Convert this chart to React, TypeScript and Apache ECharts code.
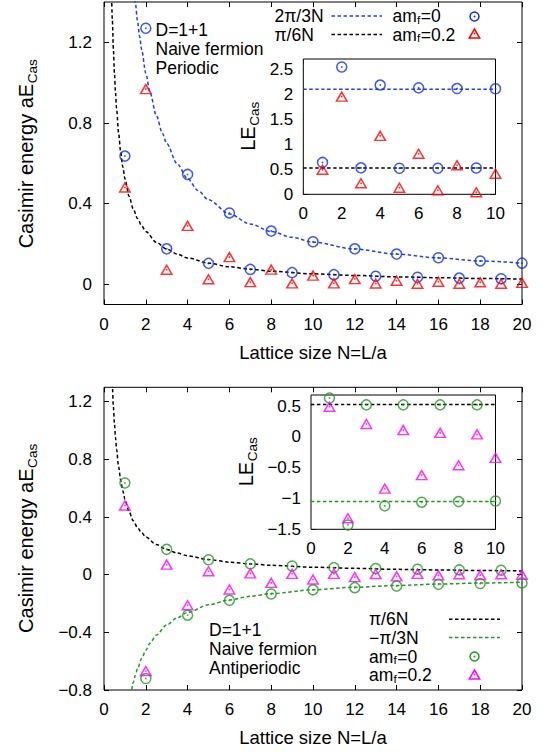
import React, { useEffect, useRef } from "react";
import * as echarts from "echarts";

// ---------------- data ----------------
const N_MAIN = [1, 2, 3, 4, 5, 6, 7, 8, 9, 10, 11, 12, 13, 14, 15, 16, 17, 18, 19, 20];
const N_INSET = [1, 2, 3, 4, 5, 6, 7, 8, 9, 10];

// Periodic, main panel (aE_Cas)
const periodicAm0 = [0.636, 1.27, 0.176, 0.545, 0.104, 0.354, 0.074, 0.264, 0.058, 0.211, 0.048, 0.176, 0.040, 0.150, 0.035, 0.132, 0.031, 0.116, 0.028, 0.105];
const periodicAm02 = [0.48, 0.968, 0.072, 0.29, 0.025, 0.135, 0.011, 0.073, 0.005, 0.043, 0.005, 0.026, 0.004, 0.018, 0.003, 0.013, 0.003, 0.010, 0.003, 0.007];
// Periodic, inset (LE_Cas)
const periodicInsetAm0 = [0.636, 2.54, 0.528, 2.18, 0.52, 2.124, 0.52, 2.11, 0.524, 2.106];
const periodicInsetAm02 = [0.49, 1.95, 0.22, 1.166, 0.13, 0.81, 0.08, 0.58, 0.04, 0.41];

// Antiperiodic, main panel
const antiAm0 = [0.636, -0.72, 0.176, -0.281, 0.104, -0.178, 0.075, -0.134, 0.06, -0.105, 0.049, -0.09, 0.043, -0.079, 0.038, -0.067, 0.033, -0.061, 0.031, -0.057];
const antiAm02 = [0.48, -0.668, 0.07, -0.212, 0.024, -0.103, 0.009, -0.057, 0.006, -0.033, 0.006, -0.017, 0.005, -0.012, 0.006, -0.005, 0.003, -0.003, 0.003, -0.001];
// Antiperiodic, inset
const antiInsetAm0 = [0.63, -1.43, 0.52, -1.12, 0.52, -1.06, 0.52, -1.05, 0.52, -1.04];
const antiInsetAm02 = [0.49, -1.32, 0.21, -0.84, 0.11, -0.62, 0.065, -0.46, 0.04, -0.34];

// Reference curves: [N, value]
const curveTwoPiOver3N = [[1.45, 1.444], [1.5, 1.396], [1.6, 1.309], [1.7, 1.232], [1.8, 1.164], [2, 1.047], [2.2, 0.952], [2.5, 0.838], [2.8, 0.748], [3, 0.698], [3.5, 0.598], [4, 0.524], [4.5, 0.465], [5, 0.419], [6, 0.349], [7, 0.299], [8, 0.262], [9, 0.233], [10, 0.209], [12, 0.175], [14, 0.150], [16, 0.131], [18, 0.116], [20, 0.105]];
const curvePiOver6N = [[0.36, 1.454], [0.4, 1.309], [0.45, 1.164], [0.5, 1.047], [0.55, 0.952], [0.6, 0.873], [0.7, 0.748], [0.8, 0.654], [0.9, 0.582], [1, 0.524], [1.2, 0.436], [1.4, 0.374], [1.6, 0.327], [1.8, 0.291], [2, 0.262], [2.5, 0.209], [3, 0.175], [3.5, 0.150], [4, 0.131], [5, 0.105], [6, 0.087], [7, 0.075], [8, 0.065], [10, 0.052], [12, 0.044], [14, 0.037], [16, 0.033], [18, 0.029], [20, 0.026]];
const curveMinusPiOver3N = [[1.25, -0.838], [1.3, -0.806], [1.4, -0.748], [1.5, -0.698], [1.6, -0.654], [1.8, -0.582], [2, -0.524], [2.2, -0.476], [2.5, -0.419], [3, -0.349], [3.5, -0.299], [4, -0.262], [5, -0.209], [6, -0.175], [7, -0.150], [8, -0.131], [10, -0.105], [12, -0.087], [14, -0.075], [16, -0.065], [18, -0.058], [20, -0.052]];
// Inset constant levels: [N, LE]
const insetTwoPiOver3 = [[0, 2.094], [10, 2.094]];
const insetPiOver6 = [[0, 0.524], [10, 0.524]];
const insetMinusPiOver3 = [[0, -1.047], [10, -1.047]];

// Tick labels
const mainXTicks = [0, 2, 4, 6, 8, 10, 12, 14, 16, 18, 20];
const insetXTicks = [0, 2, 4, 6, 8, 10];
const topYTicks = [0, 0.4, 0.8, 1.2];
const topInsetYTicks = [0, 0.5, 1, 1.5, 2, 2.5];
const botYTicks = [-0.8, -0.4, 0, 0.4, 0.8, 1.2];
const botInsetYTicks = [-1.5, -1, -0.5, 0, 0.5];

// ---------------- styles ----------------
const FAMILY = "Liberation Sans";
const FONT = "'Liberation Sans', Arial, Helvetica, sans-serif";
const BLUE = "#0a2cff";
const BLUE_LINE = "#1f3dff";
const RED = "#ff0000";
const GREEN = "#1f9a1f";
const MAGENTA = "#ff00ff";
const BLACK = "#000000";
const DASH = [3.5, 2.5];
const TXT = 17.5;
const SUB = 11.8;
const SUB_SHIFT = 3.8;
const TITLE = 20;
const TITLE_SUB = 13.6;

let measureCtx: CanvasRenderingContext2D | null = null;
function measure(text: string, size: number): number {
  if (!measureCtx) measureCtx = document.createElement("canvas").getContext("2d");
  if (!measureCtx) return text.length * size * 0.55;
  measureCtx.font = `${size}px ${FONT}`;
  return measureCtx.measureText(text).width;
}

const fmt = (v: number) => String(+(+v).toFixed(2)).replace("-", "\u2212");

function xAxes(grid: number, min: number, max: number, ticks: number[], name: string | null, labelSize: number, margin: number) {
  const base = {
    gridIndex: grid,
    type: "value",
    min,
    max,
    axisLine: { show: false, onZero: false },
    splitLine: { show: false },
    axisTick: { show: true, inside: true, length: 5, customValues: ticks, lineStyle: { color: BLACK, width: 1 } },
  };
  return [
    {
      ...base,
      position: "bottom",
      axisLabel: { show: true, customValues: ticks, formatter: fmt, color: BLACK, fontSize: labelSize, fontFamily: FAMILY, margin },
      ...(name
        ? { name, nameLocation: "middle", nameGap: 38, nameTextStyle: { color: BLACK, fontSize: 18.5, fontFamily: FAMILY } }
        : {}),
    },
    { ...base, position: "top", axisLabel: { show: false } },
  ];
}

function yAxes(grid: number, min: number, max: number, ticks: number[], labelSize: number, margin: number) {
  const base = {
    gridIndex: grid,
    type: "value",
    min,
    max,
    axisLine: { show: false, onZero: false },
    splitLine: { show: false },
    axisTick: { show: true, inside: true, length: 5, customValues: ticks, lineStyle: { color: BLACK, width: 1 } },
  };
  return [
    {
      ...base,
      position: "left",
      axisLabel: { show: true, customValues: ticks, formatter: fmt, color: BLACK, fontSize: labelSize, fontFamily: FAMILY, margin },
    },
    { ...base, position: "right", axisLabel: { show: false } },
  ];
}

function curve(name: string, data: number[][], axis: number, color: string) {
  return {
    name,
    type: "line",
    xAxisIndex: axis,
    yAxisIndex: axis,
    data,
    showSymbol: false,
    symbol: "none",
    smooth: 0.3,
    smoothMonotone: "x",
    clip: true,
    lineStyle: { color, width: 1.5, type: DASH },
    silent: true,
    z: 3,
  };
}

function points(name: string, xs: number[], ys: number[], axis: number, color: string, kind: "circle" | "triangle") {
  const data = xs.map((x, i) => [x, ys[i]]);
  return [
    {
      name,
      type: "scatter",
      xAxisIndex: axis,
      yAxisIndex: axis,
      data,
      symbol: kind,
      symbolSize: kind === "circle" ? 10 : [10.5, 9],
      clip: false,
      itemStyle: { color: "rgba(0,0,0,0)", borderColor: color, borderWidth: 1.5 },
      z: 4,
    },
    {
      name: name + " centre",
      type: "scatter",
      xAxisIndex: axis,
      yAxisIndex: axis,
      data,
      symbol: "circle",
      symbolSize: 1.8,
      clip: false,
      silent: true,
      itemStyle: { color },
      z: 5,
    },
  ];
}

// ---------------- graphic helpers ----------------
const gText = (x: number, y: number, text: string, size = TXT, rotation = 0) => ({
  type: "text",
  x,
  y,
  rotation,
  silent: true,
  z: 10,
  style: { text, font: `${size}px ${FONT}`, fill: BLACK, textVerticalAlign: "middle", verticalAlign: "middle", textAlign: "left", align: "left" },
});

// "am" + subscript "f" + rest, horizontal
const gSubText = (x: number, y: number, pre: string, sub: string, post: string) => {
  const w1 = measure(pre, TXT);
  const w2 = measure(sub, SUB);
  return [gText(x, y, pre), gText(x + w1 + 0.3, y + SUB_SHIFT, sub, SUB), gText(x + w1 + w2 + 0.6, y, post)];
};

// rotated (bottom-to-top) title with subscript, centred at (cx, cy)
const gRotTitle = (cx: number, cy: number, main: string, sub: string) => {
  const w1 = measure(main, TITLE);
  const w2 = measure(sub, TITLE_SUB);
  const start = cy + (w1 + w2) / 2;
  return [
    gText(cx, start, main, TITLE, Math.PI / 2),
    gText(cx + 6, start - w1 - 0.5, sub, TITLE_SUB, Math.PI / 2),
  ];
};

const gDash = (x1: number, x2: number, y: number, color: string) => ({
  type: "line",
  silent: true,
  z: 10,
  shape: { x1, y1: y, x2, y2: y },
  style: { stroke: color, lineWidth: 1.5, lineDash: DASH },
});
const gCircle = (cx: number, cy: number, color: string) => [
  { type: "circle", silent: true, z: 10, shape: { cx, cy, r: 4.5 }, style: { fill: "none", stroke: color, lineWidth: 1.5 } },
  { type: "circle", silent: true, z: 10, shape: { cx, cy, r: 0.9 }, style: { fill: color } },
];
const gTriangle = (cx: number, cy: number, color: string) => [
  {
    type: "polygon",
    silent: true,
    z: 10,
    shape: { points: [[cx - 5.2, cy + 4.5], [cx + 5.2, cy + 4.5], [cx, cy - 4.5]] },
    style: { fill: "none", stroke: color, lineWidth: 1.5 },
  },
  { type: "circle", silent: true, z: 10, shape: { cx, cy, r: 0.9 }, style: { fill: color } },
];

export default function App() {
  const ref = useRef<HTMLDivElement>(null);

  useEffect(() => {
    if (!ref.current) return;
    const chart = echarts.init(ref.current, null, { renderer: "svg" });

    const grid = [
      { left: 104, top: 2, width: 418, height: 302.5, show: true, borderColor: BLACK, borderWidth: 1, backgroundColor: "#fff", containLabel: false },
      { left: 303.3, top: 59, width: 192.2, height: 135.3, show: true, borderColor: BLACK, borderWidth: 1, backgroundColor: "#fff", containLabel: false, z: 3 },
      { left: 104, top: 387.3, width: 418, height: 302.7, show: true, borderColor: BLACK, borderWidth: 1, backgroundColor: "#fff", containLabel: false },
      { left: 311, top: 395, width: 184.5, height: 134.3, show: true, borderColor: BLACK, borderWidth: 1, backgroundColor: "#fff", containLabel: false, z: 3 },
    ];

    const xAxis = [
      ...xAxes(0, 0, 20, mainXTicks, "Lattice size N=L/a", 17, 11),
      ...xAxes(1, 0, 10, insetXTicks, null, 17, 10.5),
      ...xAxes(2, 0, 20, mainXTicks, "Lattice size N=L/a", 17, 11),
      ...xAxes(3, 0, 10, insetXTicks, null, 17, 10.5),
    ];
    const yAxis = [
      ...yAxes(0, -0.1, 1.4, topYTicks, 17, 12),
      ...yAxes(1, 0, 2.7, topInsetYTicks, 17, 10),
      ...yAxes(2, -0.8, 1.3, botYTicks, 17, 12),
      ...yAxes(3, -1.5, 0.68, botInsetYTicks, 17, 10),
    ];

    const series = [
      // top main (axes 0)
      curve("2π/3N", curveTwoPiOver3N, 0, BLUE_LINE),
      curve("π/6N", curvePiOver6N, 0, BLACK),
      ...points("am_f=0 (periodic)", N_MAIN, periodicAm0, 0, BLUE, "circle"),
      ...points("am_f=0.2 (periodic)", N_MAIN, periodicAm02, 0, RED, "triangle"),
      // top inset (axes 2)
      curve("2π/3 (inset)", insetTwoPiOver3, 2, BLUE_LINE),
      curve("π/6 (inset)", insetPiOver6, 2, BLACK),
      ...points("LE am_f=0 (periodic)", N_INSET, periodicInsetAm0, 2, BLUE, "circle"),
      ...points("LE am_f=0.2 (periodic)", N_INSET, periodicInsetAm02, 2, RED, "triangle"),
      // bottom main (axes 4)
      curve("π/6N (antiperiodic)", curvePiOver6N, 4, BLACK),
      curve("−π/3N", curveMinusPiOver3N, 4, GREEN),
      ...points("am_f=0 (antiperiodic)", N_MAIN, antiAm0, 4, GREEN, "circle"),
      ...points("am_f=0.2 (antiperiodic)", N_MAIN, antiAm02, 4, MAGENTA, "triangle"),
      // bottom inset (axes 6)
      curve("π/6 (inset, antiperiodic)", insetPiOver6, 6, BLACK),
      curve("−π/3 (inset)", insetMinusPiOver3, 6, GREEN),
      ...points("LE am_f=0 (antiperiodic)", N_INSET, antiInsetAm0, 6, GREEN, "circle"),
      ...points("LE am_f=0.2 (antiperiodic)", N_INSET, antiInsetAm02, 6, MAGENTA, "triangle"),
    ];

    const graphic = [
      // axis titles (rotated)
      ...gRotTitle(26, 154, "Casimir energy aE", "Cas"),
      ...gRotTitle(26, 538.6, "Casimir energy aE", "Cas"),
      ...gRotTitle(248, 126.5, "LE", "Cas"),
      ...gRotTitle(246, 462, "LE", "Cas"),
      // top legend
      gText(274.5, 16, "2π/3N"),
      gDash(331.5, 382, 16, BLUE_LINE),
      ...gSubText(392.5, 16, "am", "f", "=0"),
      ...gCircle(474.5, 16.5, BLUE),
      gText(274.5, 34.5, "π/6N"),
      gDash(331.5, 382, 34.5, BLACK),
      ...gSubText(392.5, 34.5, "am", "f", "=0.2"),
      ...gTriangle(474.5, 33.5, RED),
      // top annotation
      gText(155.5, 30, "D=1+1"),
      gText(155.5, 49, "Naive fermion"),
      gText(155.5, 68, "Periodic"),
      // bottom legend
      gText(369, 619.3, "π/6N"),
      gDash(449, 500, 619.3, BLACK),
      gText(369, 638, "\u2212π/3N"),
      gDash(449, 500, 637.5, GREEN),
      ...gSubText(369, 656.5, "am", "f", "=0"),
      ...gCircle(474.5, 656.5, GREEN),
      ...gSubText(369, 675, "am", "f", "=0.2"),
      ...gTriangle(474.5, 674.5, MAGENTA),
      // bottom annotation
      gText(209, 630, "D=1+1"),
      gText(209, 649, "Naive fermion"),
      gText(209, 668, "Antiperiodic"),
    ];

    chart.setOption({
      animation: false,
      backgroundColor: "#ffffff",
      textStyle: { fontFamily: FAMILY },
      grid,
      xAxis,
      yAxis,
      series,
      graphic,
    } as any);

    return () => chart.dispose();
  }, []);

  return (
    <div
      ref={ref}
      style={{ position: "absolute", left: 0, top: 0, width: 553, height: 752, background: "#fff" }}
    />
  );
}
